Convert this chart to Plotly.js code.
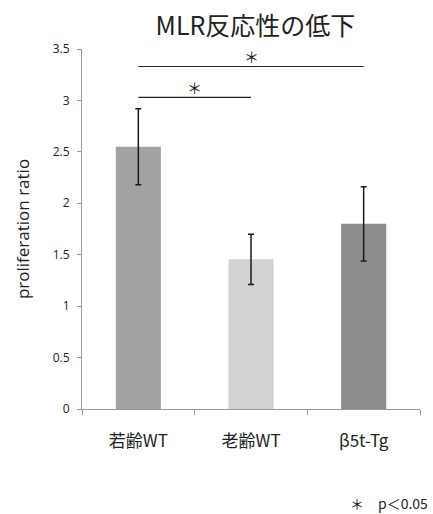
<!DOCTYPE html>
<html>
<head>
<meta charset="utf-8">
<script src="https://cdn.plot.ly/plotly-3.0.1.min.js"></script>
<style>body{margin:0;background:#fff}#chart{width:433px;height:514px}</style>
</head>
<body>
<div id="chart"></div>
<script>
const categories = ['若齢WT', '老齢WT', 'β5t-Tg'];
const values = [2.55, 1.455, 1.80];
const errors = [0.37, 0.245, 0.36];
const barColors = ['#a2a2a2', '#d2d2d2', '#8c8c8c'];
const sigFrom = [0, 0];
const sigTo = [2, 1];
const sigLevel = [3.33, 3.03];
const sigLabel = ['＊', '＊'];
const yTicks = [0, 0.5, 1, 1.5, 2, 2.5, 3, 3.5];

const traces = [{
  type: 'bar',
  x: categories,
  y: values,
  marker: {color: barColors, line: {width: 0}},
  error_y: {type: 'data', array: errors, visible: true, color: '#1a1a1a', thickness: 1.5, width: 3},
  width: 0.4,
  hoverinfo: 'none'
}];
const annotations = [];
for (let i = 0; i < sigFrom.length; i++) {
  traces.push({
    type: 'scatter', mode: 'lines',
    x: [categories[sigFrom[i]], categories[sigTo[i]]],
    y: [sigLevel[i], sigLevel[i]],
    line: {color: '#222', width: 1.2},
    hoverinfo: 'none'
  });
  annotations.push({
    x: (sigFrom[i] + sigTo[i]) / 2, y: sigLevel[i], xref: 'x', yref: 'y',
    text: sigLabel[i], showarrow: false, yanchor: 'bottom', yshift: -3,
    font: {size: 15, color: '#222', family: 'Noto Sans CJK JP'}
  });
}
annotations.push({
  x: 1, y: 0, xref: 'paper', yref: 'paper', xanchor: 'right', yanchor: 'middle',
  xshift: 10, yshift: -94,
  text: '＊\u3000p＜0.05', showarrow: false,
  font: {size: 14, color: '#222', family: 'Noto Sans CJK JP'}
});

const layout = {
  width: 433, height: 514,
  margin: {l: 82, r: 13, t: 49, b: 105},
  paper_bgcolor: '#fff', plot_bgcolor: '#fff',
  showlegend: false,
  title: {text: 'MLR反応性の低下', x: 0.59, xanchor: 'center', y: 0.948, yanchor: 'middle',
          font: {size: 25, color: '#222', family: 'Noto Sans CJK JP'}},
  xaxis: {
    type: 'category', range: [-0.5, 2.5], tickson: 'boundaries',
    ticks: 'outside', ticklen: 5, tickcolor: '#999', showline: true, linecolor: '#999', linewidth: 1,
    showgrid: false, zeroline: false, ticklabelstandoff: 17,
    tickfont: {size: 17, color: '#222', family: 'Noto Sans CJK JP'}
  },
  yaxis: {
    range: [0, 3.5], tickvals: yTicks, ticktext: yTicks.map(String),
    ticks: 'outside', ticklen: 4, tickcolor: '#999', showline: true, linecolor: '#999', linewidth: 1,
    showgrid: false, zeroline: false, ticklabelstandoff: 5,
    tickfont: {size: 12, color: '#222', family: 'Open Sans'},
    title: {text: 'proliferation ratio', standoff: 18, font: {size: 17, color: '#222', family: 'Open Sans'}}
  },
  annotations: annotations
};
Plotly.newPlot('chart', traces, layout, {staticPlot: true, displayModeBar: false});
</script>
</body>
</html>
